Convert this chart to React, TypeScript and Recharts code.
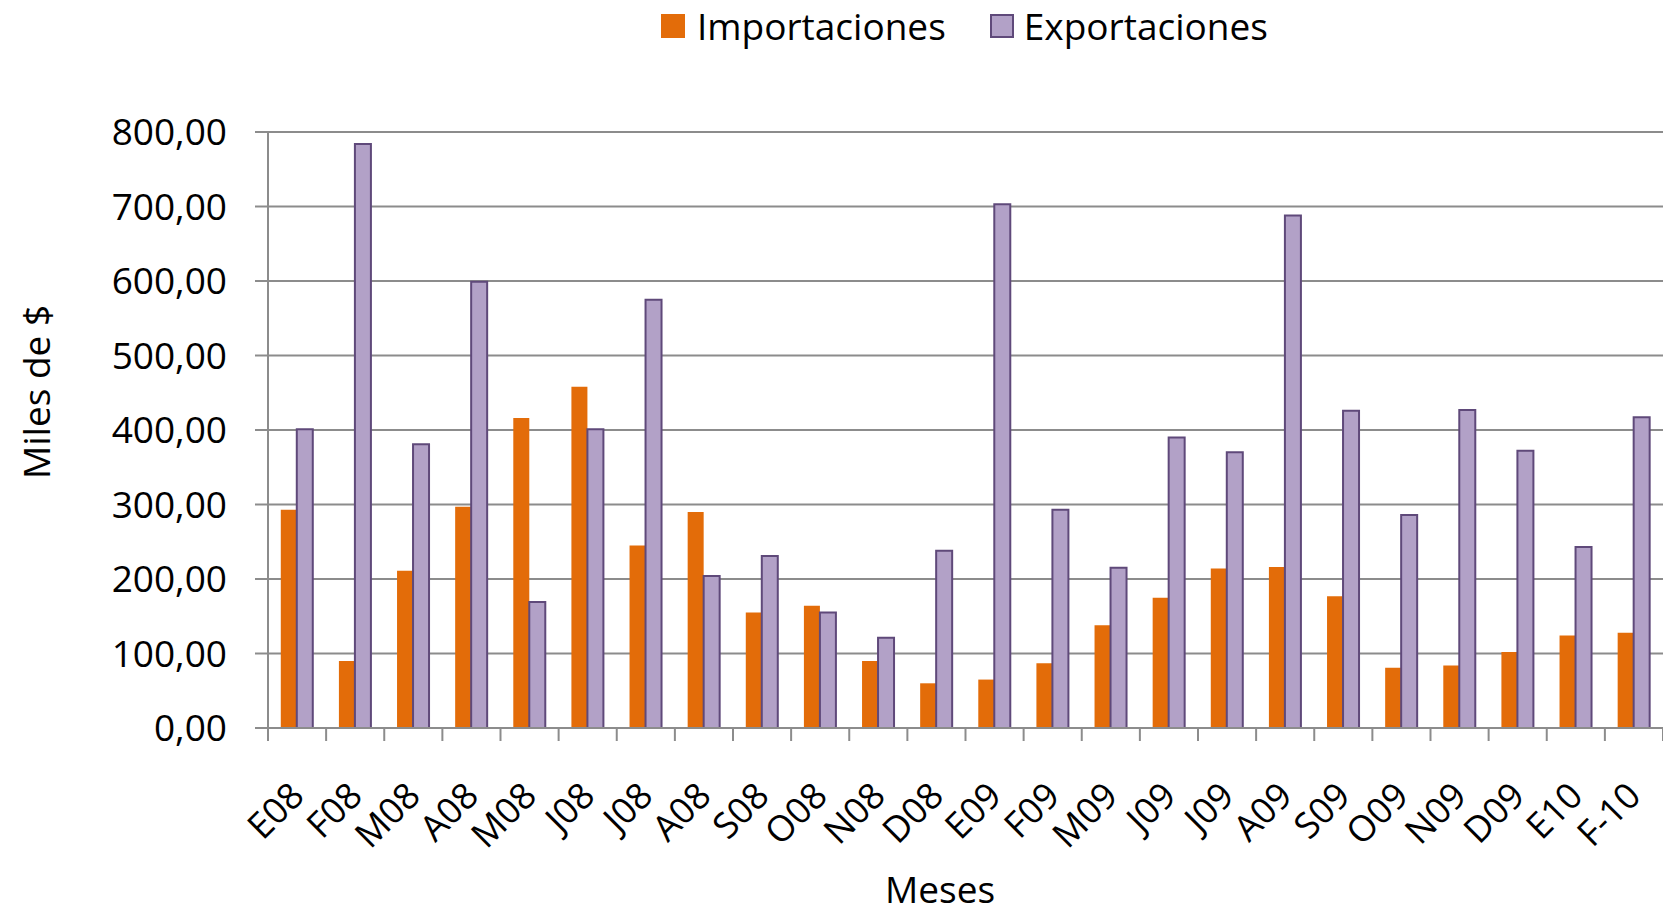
import { BarChart, Bar, XAxis, YAxis, CartesianGrid } from "recharts";

// months, in the order shown on the x axis
const meses: string[] = [
  "E08", "F08", "M08", "A08", "M08", "J08", "J08", "A08", "S08", "O08", "N08", "D08",
  "E09", "F09", "M09", "J09", "J09", "A09", "S09", "O09", "N09", "D09", "E10", "F-10",
];

// thousands of $
const importaciones: number[] = [
  293, 90, 211, 297, 416, 458, 245, 290, 155, 164, 90, 60,
  65, 87, 138, 175, 214, 216, 177, 81, 84, 102, 124, 128,
];
const exportaciones: number[] = [
  401, 784, 381, 599, 169, 401, 575, 204, 231, 155, 121, 238,
  703, 293, 215, 390, 370, 688, 426, 286, 427, 372, 243, 417,
];

const yTicks: number[] = [0, 100, 200, 300, 400, 500, 600, 700, 800];

const data = meses.map((mes, i) => ({
  mes,
  importaciones: importaciones[i],
  exportaciones: exportaciones[i],
}));

const W = 1663;
const H = 914;
const AXIS_W = 268;
const PLOT_TOP = 132;
const X_AXIS_H = 186;
const BAND = (W - AXIS_W) / meses.length;

const ORANGE = "#E36C09";
const LILAC = "#B2A1C7";
const LILAC_EDGE = "#5F497A";
const GRID = "#8C8C8C";
const FONT = "'Open Sans', sans-serif";

const fmt = (v: number) => v.toFixed(2).replace(".", ",");

// x tick: boundary tick marks (Excel style) + rotated label
const MesTick = (props: any) => {
  const { x, y, payload, index } = props;
  const half = BAND / 2;
  return (
    <g transform={`translate(${x},${y})`}>
      <line x1={-half} y1={0} x2={-half} y2={13} stroke={GRID} strokeWidth={2} />
      {index === meses.length - 1 && (
        <line x1={half} y1={0} x2={half} y2={13} stroke={GRID} strokeWidth={2} />
      )}
      <text
        x={0}
        y={0}
        transform="translate(9,70) rotate(-45)"
        textAnchor="end"
        fontSize={36}
        fontFamily={FONT}
        fill="#000"
      >
        {payload.value}
      </text>
    </g>
  );
};

export default function App() {
  return (
    <div
      style={{
        position: "absolute",
        left: 0,
        top: 0,
        width: W,
        height: H,
        background: "#fff",
        fontFamily: FONT,
        overflow: "hidden",
      }}
    >
      {/* legend */}
      <div
        style={{
          position: "absolute",
          left: 661,
          top: 7,
          height: 37,
          lineHeight: "37px",
          display: "flex",
          alignItems: "center",
          fontSize: 37,
          color: "#000",
          whiteSpace: "nowrap",
        }}
      >
        <span style={{ width: 24, height: 24, background: ORANGE, display: "inline-block", marginRight: 12 }} />
        <span style={{ marginRight: 44 }}>Importaciones</span>
        <span
          style={{
            width: 20,
            height: 20,
            background: LILAC,
            border: `2px solid ${LILAC_EDGE}`,
            display: "inline-block",
            marginRight: 10,
          }}
        />
        <span>Exportaciones</span>
      </div>

      <BarChart
        width={W}
        height={H}
        data={data}
        margin={{ top: PLOT_TOP, right: 0, bottom: 0, left: 0 }}
        barCategoryGap="22%"
        barGap={0}
      >
        <CartesianGrid vertical={false} stroke={GRID} strokeWidth={2} />
        <XAxis
          dataKey="mes"
          height={X_AXIS_H}
          interval={0}
          stroke={GRID}
          strokeWidth={2}
          tickLine={false}
          tickSize={0}
          tickMargin={0}
          tick={<MesTick />}
          label={{
            content: () => (
              <text x={940} y={903} textAnchor="middle" fontSize={37} fontFamily={FONT} fill="#000">
                Meses
              </text>
            ),
          }}
        />
        <YAxis
          width={AXIS_W}
          domain={[0, 800]}
          ticks={yTicks}
          interval={0}
          tickFormatter={fmt}
          stroke={GRID}
          strokeWidth={2}
          tickSize={13}
          tickMargin={28}
          tick={{ fontSize: 37, fontFamily: FONT, fill: "#000" }}
          label={{
            content: () => (
              <text
                x={0}
                y={0}
                transform="translate(35,392) rotate(-90)"
                textAnchor="middle"
                dominantBaseline="central"
                fontSize={37}
                fontFamily={FONT}
                fill="#000"
              >
                Miles de $
              </text>
            ),
          }}
        />
        <Bar dataKey="importaciones" name="Importaciones" fill={ORANGE} isAnimationActive={false} />
        <Bar
          dataKey="exportaciones"
          name="Exportaciones"
          fill={LILAC}
          stroke={LILAC_EDGE}
          strokeWidth={2}
          isAnimationActive={false}
        />
      </BarChart>
    </div>
  );
}
